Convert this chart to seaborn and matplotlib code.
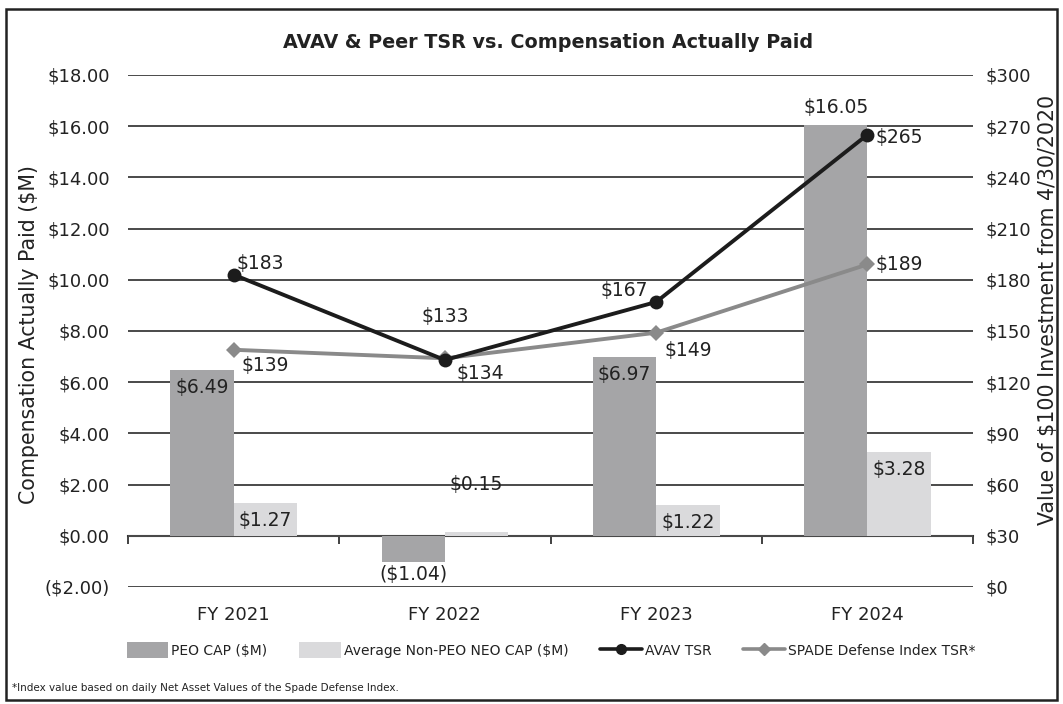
import numpy as np
import pandas as pd
import seaborn as sns
import matplotlib.pyplot as plt
from matplotlib.patches import Patch, Rectangle
from matplotlib.lines import Line2D

# data
years = ["FY 2021", "FY 2022", "FY 2023", "FY 2024"]
peo_cap = [6.49, -1.04, 6.97, 16.05]
non_peo_cap = [1.27, 0.15, 1.22, 3.28]
avav_tsr = [183, 133, 167, 265]
spade_tsr = [139, 134, 149, 189]

bar_series = ["PEO CAP ($M)", "Average Non-PEO NEO CAP ($M)"]
line_series = ["AVAV TSR", "SPADE Defense Index TSR*"]

left_ticks = np.arange(-2, 19, 2)
right_ticks = np.arange(0, 301, 30)

# label offsets in pixels (dx, dy, ha, va)
peo_lbl = [(0, -8, "center", "top"), (0, -3, "center", "top"),
           (0, -8, "center", "top"), (0, 8, "center", "bottom")]
non_lbl = [(0, -8, "center", "top"), (0, 38, "center", "bottom"),
           (0, -8, "center", "top"), (0, -8, "center", "top")]
avav_lbl = [(3, 2, "left", "bottom"), (0, 34, "center", "bottom"),
            (-8, 2, "right", "bottom"), (8, -3, "left", "center")]
spade_lbl = [(8, -6, "left", "top"), (12, -6, "left", "top"),
             (8, -8, "left", "top"), (8, 0, "left", "center")]

DARK = "#222222"
C_PEO = "#a5a5a7"
C_NON = "#dadadc"
C_AVAV = "#1c1c1c"
C_SPADE = "#8a8a8a"


def money(v):
    return f"(${abs(v):.2f})" if v < 0 else f"${v:.2f}"


def main():
    sns.set_theme(style="white")
    plt.rcParams["font.family"] = ["DejaVu Sans"]
    plt.rcParams["text.parse_math"] = False

    df = pd.DataFrame({
        "year": years * 2,
        "series": [bar_series[0]] * len(years) + [bar_series[1]] * len(years),
        "value": peo_cap + non_peo_cap,
    })

    fig = plt.figure(figsize=(10.63, 7.04), dpi=100)
    ax = fig.add_axes([128 / 1063, 1 - 587 / 704, 845 / 1063, 512 / 704])

    sns.barplot(data=df, x="year", y="value", hue="series",
                palette=[C_PEO, C_NON], saturation=1, width=0.6,
                ax=ax, legend=False, linewidth=0)

    ymin, ymax = -2, 18
    ax.set_ylim(ymin, ymax)
    ax.set_xlim(-0.5, len(years) - 0.5)
    ax.set_yticks(left_ticks)
    ax.set_yticklabels([money(t) for t in left_ticks])
    ax.set_axisbelow(True)
    ax.yaxis.grid(True, color="#4a4a4a", linewidth=1.4)
    ax.xaxis.grid(False)
    for s in ax.spines.values():
        s.set_visible(False)
    ax.tick_params(axis="y", length=0, pad=13, labelsize=13, labelcolor=DARK)
    ax.tick_params(axis="x", length=0, pad=14, labelsize=13, labelcolor=DARK)
    ax.set_xlabel("")
    ax.set_ylabel("")

    # zero line with category separators
    zero = (0 - ymin) / (ymax - ymin)
    sec = ax.secondary_xaxis(zero)
    sec.set_xticks(np.arange(-0.5, len(years), 1.0))
    sec.tick_params(length=6, width=1.3, color="#333333", labelbottom=False)
    sec.spines["bottom"].set_color("#333333")
    sec.spines["bottom"].set_linewidth(1.5)

    # bar labels
    for cont, vals, offs in zip(ax.containers, [peo_cap, non_peo_cap], [peo_lbl, non_lbl]):
        for bar, v, (dx, dy, ha, va) in zip(cont, vals, offs):
            x = bar.get_x() + bar.get_width() / 2
            y = bar.get_y() + bar.get_height() if v >= 0 else v
            ax.annotate(money(v), (x, y), xytext=(dx, dy), textcoords="offset pixels",
                        ha=ha, va=va, fontsize=13.5, color=DARK)

    # TSR lines on the right axis
    ax2 = ax.twinx()
    xs = np.arange(len(years))
    sns.lineplot(x=xs, y=spade_tsr, ax=ax2, color=C_SPADE, linewidth=2.8,
                 marker="D", markersize=8, markeredgewidth=0)
    sns.lineplot(x=xs, y=avav_tsr, ax=ax2, color=C_AVAV, linewidth=2.8,
                 marker="o", markersize=10, markeredgewidth=0)
    ax2.set_ylim(0, 300)
    ax2.set_xlim(-0.5, len(years) - 0.5)
    ax2.set_yticks(right_ticks)
    ax2.set_yticklabels([f"${t}" for t in right_ticks])
    ax2.tick_params(axis="y", length=0, pad=9, labelsize=13, labelcolor=DARK)
    ax2.grid(False)
    for s in ax2.spines.values():
        s.set_visible(False)

    for vals, offs in [(avav_tsr, avav_lbl), (spade_tsr, spade_lbl)]:
        for x, v, (dx, dy, ha, va) in zip(xs, vals, offs):
            ax2.annotate(f"${v}", (x, v), xytext=(dx, dy), textcoords="offset pixels",
                         ha=ha, va=va, fontsize=13.5, color=DARK)

    # titles / axis labels
    fig.text(548 / 1063, 1 - 43 / 704, "AVAV & Peer TSR vs. Compensation Actually Paid",
             ha="center", va="center", fontsize=13.8, fontweight="bold", color=DARK)
    fig.text(29 / 1063, 1 - 335 / 704, "Compensation Actually Paid ($M)",
             rotation=90, ha="center", va="center", fontsize=14.8, color=DARK)
    fig.text(1048 / 1063, 1 - 310 / 704, "Value of $100 Investment from 4/30/2020",
             rotation=90, ha="center", va="center", fontsize=14.8, color=DARK)

    handles = [
        Patch(facecolor=C_PEO, edgecolor="none"),
        Patch(facecolor=C_NON, edgecolor="none"),
        Line2D([], [], color=C_AVAV, lw=2.6, marker="o", markersize=7),
        Line2D([], [], color=C_SPADE, lw=2.6, marker="D", markersize=6),
    ]
    fig.legend(handles, bar_series + line_series, loc="center",
               bbox_to_anchor=(551 / 1063, 1 - 650 / 704), ncol=4, frameon=False,
               fontsize=10, handlelength=3.0, handleheight=1.3, handletextpad=0.2,
               columnspacing=2.3, labelcolor=DARK)

    fig.text(12 / 1063, 1 - 688 / 704,
             "*Index value based on daily Net Asset Values of the Spade Defense Index.",
             ha="left", va="center", fontsize=7.5, color=DARK)

    fig.patches.append(Rectangle((6 / 1063, 4 / 704), 1051 / 1063, 691 / 704,
                                 transform=fig.transFigure, fill=False,
                                 edgecolor=DARK, linewidth=1.8))

    fig.savefig("out.png", dpi=100)


if __name__ == "__main__":
    main()
